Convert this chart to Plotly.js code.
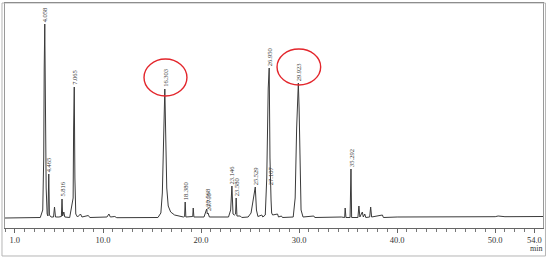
<!DOCTYPE html>
<html>
<head>
<meta charset="utf-8">
<script src="https://cdn.plot.ly/plotly-3.0.1.min.js"></script>
<style>html,body{margin:0;padding:0;background:#fff;}#chart{width:550px;height:259px;}</style>
</head>
<body>
<div id="chart"></div>
<script>
// Chromatogram trace: retention time (min) and signal (arbitrary units)
const traceTime = [
  0.0, 1.5, 3.0, 3.6, 3.85, 3.95, 4.0, 4.058, 4.12, 4.2, 4.3, 4.38, 4.465, 4.53, 4.7,
  4.95, 5.05, 5.15, 5.5, 5.75, 5.816, 5.88, 6.0, 6.1, 6.6, 6.95, 7.0, 7.065, 7.13, 7.22, 7.4,
  7.7, 7.85, 8.5, 8.65, 9.5, 10.4, 10.6, 10.75, 11.2, 11.4, 15.6, 15.9, 16.05, 16.15, 16.25,
  16.303, 16.4, 16.5, 16.65, 16.9, 17.3, 17.8, 18.2, 18.32, 18.38, 18.45, 19.0, 19.15, 19.2, 19.27, 20.3,
  20.568, 20.64, 20.71, 20.85, 21.5, 22.8, 23.02, 23.146, 23.26, 23.4, 23.52, 23.58, 23.66, 24.0,
  24.15, 24.8, 25.1, 25.35, 25.529, 25.65, 25.8, 26.2, 26.3, 26.55, 26.7, 26.85, 26.95,
  27.03, 27.07, 27.107, 27.14, 27.2, 27.3, 27.8, 27.9, 28.2, 28.3, 29.4, 29.6, 29.75, 29.85,
  29.923, 30.0, 30.1, 30.2, 30.4, 31.5, 31.6, 33.0, 34.3, 34.65, 34.7, 34.78, 35.2, 35.292,
  35.36, 36.0, 36.1, 36.2, 36.45, 36.55, 36.7, 36.8, 37.2, 37.3, 37.4, 38.5, 38.6, 40.0,
  45.0, 50.0, 50.3, 51.0, 55.0
];
const traceSignal = [
  0, 0.3, 0, 0.5, 8, 60, 150, 194, 120, 30, 4, 2, 44, 3, 1,
  1, 11, 1, 1, 1.5, 19, 2, 6, 1, 0.5, 20, 90, 131, 40, 4, 1,
  4, 1, 2.5, 0.5, 1, 1, 4, 1, 1.5, 0.3, 0.5, 5, 25, 70, 115,
  129, 80, 30, 12, 6, 3, 1.5, 1, 1.5, 16, 1, 1.5, 1.5, 10, 1, 1,
  9, 4, 5, 1, 1, 1, 8, 32, 4, 3, 4, 20, 2, 2,
  0.5, 1, 5, 20, 31, 8, 1.5, 3, 1, 3, 40, 130, 150,
  60, 35, 31, 18, 5, 3, 4, 1, 2, 0.5, 1, 20, 90, 125,
  135, 110, 40, 8, 1, 2, 0.5, 1, 1, 0.5, 10, 0.5, 0.5, 49,
  0.5, 0.5, 12, 1, 6, 1, 4, 0.5, 1, 11, 1, 3, 0.5, 1,
  1, 1.3, 2, 1.3, 1.5
];
// Labelled peaks
const peakLabels = ["4.058","4.465","5.816","7.065","16.303","18.380","20.568","20.710","23.146","23.580","25.529","26.950","27.107","29.923","35.292"];
const peakTimes  = [4.058, 4.465, 5.816, 7.065, 16.303, 18.380, 20.568, 20.710, 23.146, 23.580, 25.529, 26.950, 27.107, 29.923, 35.292];
const peakHeights = [194, 44, 19, 131, 129, 16, 9, 5, 32, 20, 31, 150, 31, 135, 49];
// Axis ticks
const tickValues = [1, 10, 20, 30, 40, 50, 54];
const tickLabels = ["1.0", "10.0", "20.0", "30.0", "40.0", "50.0", "54.0"];

const serif = "Liberation Serif, Times New Roman, serif";

const annotations = peakLabels.map((lab, i) => ({
  x: peakTimes[i], y: peakHeights[i], xref: 'x', yref: 'y',
  text: lab, showarrow: false, textangle: -90,
  xanchor: 'center', yanchor: 'bottom', yshift: 1, borderpad: 0,
  font: {family: serif, size: 6.5, color: '#333'}
}));
annotations.push({
  x: 0.987, y: -0.092, xref: 'paper', yref: 'paper', text: 'min', showarrow: false,
  xanchor: 'center', yanchor: 'middle', font: {family: serif, size: 8, color: '#333'}
});

const data = [{
  x: traceTime, y: traceSignal, type: 'scatter', mode: 'lines',
  line: {color: '#3a3a3a', width: 1}, hoverinfo: 'skip'
}];

const layout = {
  width: 550, height: 259,
  margin: {l: 5, r: 7, t: 3, b: 31, pad: 0},
  paper_bgcolor: '#fff', plot_bgcolor: '#fff',
  showlegend: false,
  xaxis: {
    range: [0, 54.88], showgrid: false, zeroline: false,
    showline: true, linecolor: '#666', linewidth: 1, mirror: true,
    ticks: 'outside', ticklen: 4, tickwidth: 1, tickcolor: '#666',
    tickvals: tickValues, ticktext: tickLabels,
    tickfont: {family: serif, size: 8.5, color: '#333'},
    minor: {ticks: 'outside', dtick: 1, tick0: 0, ticklen: 3, tickcolor: '#777', showgrid: false}
  },
  yaxis: {
    range: [-10, 215], showgrid: false, zeroline: false,
    showline: true, linecolor: '#999', linewidth: 1, mirror: true,
    showticklabels: false, ticks: ''
  },
  annotations: annotations,
  shapes: [
    {type: 'rect', xref: 'paper', yref: 'paper', x0: -0.0056, x1: 1.0046, y0: -0.1244, y1: 1.0,
     line: {color: '#b5b5b5', width: 1}},
    {type: 'circle', xref: 'x', yref: 'y', x0: 14.18, x1: 18.56, y0: 122, y1: 159,
     line: {color: '#e3262c', width: 1.4}},
    {type: 'circle', xref: 'x', yref: 'y', x0: 27.75, x1: 32.2, y0: 133, y1: 169,
     line: {color: '#e3262c', width: 1.4}}
  ]
};

Plotly.newPlot('chart', data, layout, {staticPlot: true, displayModeBar: false});
</script>
</body>
</html>
